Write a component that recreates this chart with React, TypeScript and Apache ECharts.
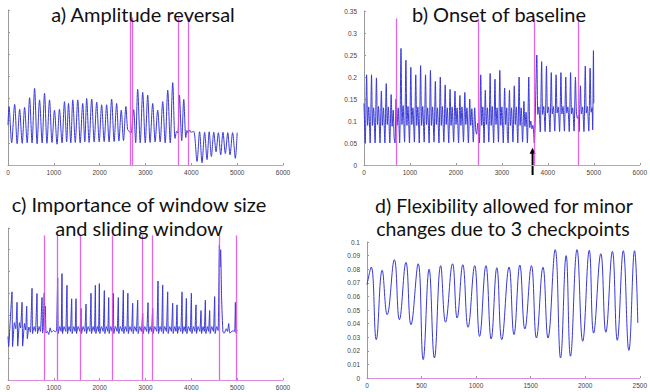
import React, { useEffect, useRef } from 'react';
import * as echarts from 'echarts';

// ---- Panel a) Amplitude reversal : [sample, amplitude]
const aSignal: number[][] = [
  [0, 0.09], [22, 0.132], [80, 0.05], [145, 0.137], [200, 0.048], [254, 0.126], [310, 0.049], [362, 0.13],
  [418, 0.05], [471, 0.152], [525, 0.05], [580, 0.173], [635, 0.048], [688, 0.147], [745, 0.05], [797, 0.162],
  [850, 0.049], [906, 0.147], [960, 0.051], [1014, 0.124], [1070, 0.047], [1123, 0.126], [1178, 0.05], [1232, 0.143],
  [1280, 0.052], [1320, 0.139], [1370, 0.05], [1413, 0.147], [1468, 0.051], [1522, 0.147], [1575, 0.05], [1630, 0.139],
  [1675, 0.052], [1717, 0.15], [1770, 0.051], [1826, 0.149], [1880, 0.052], [1935, 0.142], [1990, 0.052], [2043, 0.136],
  [2098, 0.053], [2152, 0.136], [2205, 0.052], [2261, 0.149], [2315, 0.053], [2370, 0.139], [2420, 0.054], [2471, 0.124],
  [2520, 0.055], [2572, 0.132], [2610, 0.08], [2645, 0.076], [2680, 0.072], [2700, 0.08], [2742, 0.125], [2785, 0.05],
  [2829, 0.171], [2885, 0.05], [2939, 0.164], [2995, 0.05], [3048, 0.158], [3100, 0.051], [3157, 0.139], [3210, 0.052],
  [3266, 0.124], [3320, 0.052], [3375, 0.143], [3430, 0.05], [3485, 0.169], [3540, 0.05], [3594, 0.186], [3645, 0.06],
  [3680, 0.076], [3705, 0.072], [3740, 0.158], [3790, 0.055], [3835, 0.148], [3880, 0.062], [3905, 0.078], [3930, 0.072],
  [3960, 0.079], [3990, 0.074], [4050, 0.076], [4124, 0.008], [4180, 0.075], [4233, 0.005], [4290, 0.074], [4342, 0.012],
  [4390, 0.075], [4437, 0.019], [4490, 0.074], [4539, 0.03], [4590, 0.073], [4641, 0.023], [4690, 0.074], [4742, 0.026],
  [4795, 0.073], [4844, 0.023], [4900, 0.073], [4960, 0.015], [5000, 0.073],
];
const aCuts = [2670, 2715, 3705, 3940];

// ---- Panel b) Onset of baseline
const bSignal: number[][] = [
  [0, 0.14],
  [27, 0.05], [57, 0.205], [79, 0.09], [102, 0.132],
  [134, 0.05], [164, 0.205], [186, 0.09], [209, 0.13],
  [241, 0.05], [271, 0.198], [293, 0.092], [316, 0.133],
  [348, 0.05], [378, 0.168], [400, 0.09], [423, 0.13],
  [454, 0.05], [484, 0.185], [506, 0.092], [529, 0.132],
  [561, 0.05], [591, 0.16], [613, 0.088], [636, 0.125],
  [655, 0.062], [675, 0.05], [698, 0.15], [720, 0.09], [743, 0.13],
  [775, 0.05], [805, 0.265], [827, 0.092], [850, 0.135],
  [882, 0.052], [912, 0.238], [934, 0.09], [957, 0.133],
  [989, 0.05], [1019, 0.222], [1041, 0.092], [1064, 0.13],
  [1096, 0.052], [1126, 0.205], [1148, 0.09], [1171, 0.132],
  [1202, 0.05], [1232, 0.226], [1254, 0.09], [1277, 0.133],
  [1309, 0.052], [1339, 0.205], [1361, 0.092], [1384, 0.13],
  [1416, 0.05], [1446, 0.215], [1468, 0.09], [1491, 0.132],
  [1523, 0.052], [1553, 0.19], [1575, 0.092], [1598, 0.13],
  [1630, 0.05], [1660, 0.2], [1682, 0.09], [1705, 0.133],
  [1737, 0.052], [1767, 0.182], [1789, 0.092], [1812, 0.13],
  [1843, 0.05], [1873, 0.172], [1895, 0.09], [1918, 0.132],
  [1950, 0.052], [1980, 0.168], [2002, 0.092], [2025, 0.13],
  [2057, 0.05], [2087, 0.158], [2109, 0.09], [2132, 0.132],
  [2164, 0.052], [2194, 0.165], [2216, 0.092], [2239, 0.13],
  [2271, 0.05], [2301, 0.15], [2323, 0.09], [2346, 0.128],
  [2378, 0.052], [2408, 0.13], [2430, 0.08], [2450, 0.07], [2475, 0.095],
  [2510, 0.05], [2540, 0.205], [2562, 0.09], [2585, 0.132],
  [2612, 0.05], [2640, 0.17], [2662, 0.092], [2685, 0.13],
  [2715, 0.052], [2745, 0.208], [2767, 0.09], [2790, 0.133],
  [2820, 0.05], [2850, 0.195], [2872, 0.092], [2895, 0.13],
  [2925, 0.052], [2955, 0.215], [2977, 0.09], [3000, 0.132],
  [3030, 0.05], [3060, 0.175], [3082, 0.092], [3105, 0.13],
  [3120, 0.065], [3135, 0.05], [3165, 0.17], [3187, 0.09], [3210, 0.13],
  [3240, 0.052], [3270, 0.18], [3292, 0.092], [3315, 0.132],
  [3345, 0.05], [3375, 0.2], [3397, 0.09], [3420, 0.13],
  [3450, 0.052], [3480, 0.145], [3502, 0.088], [3525, 0.12],
  [3555, 0.05], [3585, 0.2], [3607, 0.085], [3630, 0.1], [3652, 0.082], [3675, 0.09],
  [3705, 0.05], [3760, 0.25], [3782, 0.115], [3805, 0.132],
  [3835, 0.075], [3865, 0.235], [3887, 0.115], [3910, 0.133],
  [3940, 0.076], [3970, 0.225], [3992, 0.118], [4015, 0.132],
  [4045, 0.075], [4075, 0.21], [4097, 0.116], [4120, 0.133],
  [4150, 0.077], [4180, 0.205], [4202, 0.118], [4225, 0.132],
  [4255, 0.076], [4285, 0.21], [4307, 0.116], [4330, 0.133],
  [4360, 0.077], [4390, 0.2], [4412, 0.118], [4435, 0.132],
  [4465, 0.076], [4495, 0.21], [4517, 0.116], [4540, 0.13],
  [4570, 0.077], [4600, 0.2], [4622, 0.118], [4645, 0.106], [4665, 0.112],
  [4680, 0.076], [4710, 0.18], [4732, 0.116], [4755, 0.132],
  [4785, 0.076], [4815, 0.225], [4837, 0.118], [4860, 0.133],
  [4890, 0.077], [4920, 0.22], [4942, 0.12], [4962, 0.13],
  [4975, 0.08], [4992, 0.26], [5000, 0.14],
];
const bCuts = [705, 2479, 3704, 4660];
const bArrowAt = 3668;

// ---- Panel c) Importance of window size and sliding window
const cSignal: number[][] = [
  [0, 0.1], [15, 0.077], [45, 0.13], [87, 0.203], [100, 0.077], [140, 0.132], [170, 0.118], [197, 0.179],
  [212, 0.078], [250, 0.132], [275, 0.12], [306, 0.179], [320, 0.078], [360, 0.13], [385, 0.115], [408, 0.17],
  [422, 0.095], [455, 0.122], [490, 0.11],
  [524, 0.211], [536, 0.107], [569, 0.123], [599, 0.112],
  [633, 0.199], [645, 0.107], [678, 0.123], [708, 0.112],
  [742, 0.19], [754, 0.108], [770, 0.12],
  [790, 0.2], [805, 0.15], [815, 0.17], [830, 0.108], [860, 0.112], [890, 0.105], [920, 0.12], [950, 0.11],
  [990, 0.114], [1030, 0.111], [1060, 0.113],
  [1084, 0.235], [1096, 0.107], [1129, 0.123], [1159, 0.112],
  [1178, 0.245], [1190, 0.107], [1223, 0.123], [1260, 0.112],
  [1287, 0.218], [1299, 0.107], [1332, 0.123], [1362, 0.112],
  [1389, 0.187], [1401, 0.107], [1434, 0.123], [1464, 0.112],
  [1484, 0.187], [1496, 0.107], [1529, 0.123], [1570, 0.112],
  [1593, 0.165], [1605, 0.107], [1638, 0.123], [1675, 0.112],
  [1702, 0.175], [1714, 0.107], [1747, 0.123], [1785, 0.112],
  [1811, 0.2], [1823, 0.107], [1856, 0.123], [1886, 0.112],
  [1906, 0.218], [1918, 0.107], [1951, 0.123], [1975, 0.112],
  [1993, 0.222], [2005, 0.107], [2038, 0.123], [2075, 0.112],
  [2102, 0.206], [2114, 0.107], [2147, 0.123], [2177, 0.112],
  [2197, 0.19], [2209, 0.107], [2242, 0.123], [2272, 0.112],
  [2298, 0.2], [2310, 0.107], [2343, 0.123], [2380, 0.112],
  [2407, 0.19], [2419, 0.107], [2452, 0.123], [2490, 0.112],
  [2516, 0.207], [2528, 0.107], [2561, 0.123], [2591, 0.112],
  [2615, 0.2], [2627, 0.107], [2660, 0.123], [2695, 0.112],
  [2720, 0.177], [2732, 0.107], [2765, 0.123], [2800, 0.112],
  [2829, 0.184], [2841, 0.107], [2874, 0.123], [2910, 0.112],
  [2939, 0.154], [2951, 0.107], [2984, 0.123], [3025, 0.112],
  [3055, 0.178], [3067, 0.107], [3100, 0.123], [3130, 0.112],
  [3157, 0.165], [3169, 0.107], [3202, 0.123], [3245, 0.112],
  [3273, 0.228], [3285, 0.107], [3318, 0.123], [3350, 0.112],
  [3375, 0.219], [3387, 0.107], [3420, 0.123], [3455, 0.112],
  [3484, 0.203], [3496, 0.107], [3529, 0.123], [3565, 0.112],
  [3593, 0.177], [3605, 0.107], [3638, 0.123], [3665, 0.112],
  [3688, 0.173], [3700, 0.107], [3733, 0.123], [3770, 0.112],
  [3797, 0.203], [3809, 0.107], [3842, 0.123], [3868, 0.112],
  [3892, 0.188], [3904, 0.107], [3937, 0.123], [3975, 0.112],
  [4001, 0.2], [4013, 0.107], [4046, 0.123], [4076, 0.112],
  [4102, 0.173], [4114, 0.107], [4147, 0.123], [4185, 0.112],
  [4211, 0.16], [4223, 0.107], [4256, 0.123], [4282, 0.112],
  [4306, 0.184], [4318, 0.107], [4351, 0.123], [4376, 0.112],
  [4400, 0.16], [4412, 0.107], [4445, 0.123], [4482, 0.112],
  [4509, 0.192], [4521, 0.107], [4554, 0.123], [4585, 0.114],
  [4612, 0.31], [4625, 0.26], [4640, 0.3], [4660, 0.19], [4690, 0.11], [4720, 0.108], [4760, 0.118],
  [4790, 0.112], [4815, 0.13], [4840, 0.108], [4900, 0.113], [4945, 0.112], [4961, 0.179], [4975, 0.108],
  [5000, 0.115],
];
const cCuts = [793, 1076, 1586, 2284, 2939, 3157, 4612, 4970];

// ---- Panel d) Flexibility allowed for minor changes due to 3 checkpoints
const dSignal: number[][] = [
  [0, 0.0686], [39, 0.0816], [85, 0.0282], [139, 0.0792], [185, 0.0466], [251, 0.087], [297, 0.0429],
  [357, 0.085], [403, 0.0392], [469, 0.084], [515, 0.0135], [569, 0.08], [618, 0.0147], [675, 0.0826],
  [720, 0.041], [784, 0.084], [826, 0.0441], [878, 0.0833], [926, 0.0373], [987, 0.0826], [1032, 0.0306],
  [1090, 0.0826], [1138, 0.0287], [1190, 0.0811], [1235, 0.0282], [1302, 0.0816], [1347, 0.0319],
  [1401, 0.083], [1447, 0.036], [1507, 0.0826], [1553, 0.0294], [1613, 0.0814], [1659, 0.0294],
  [1725, 0.0944], [1774, 0.0147], [1825, 0.09], [1865, 0.016], [1925, 0.0944], [1977, 0.027],
  [2037, 0.0939], [2077, 0.033], [2143, 0.0914], [2189, 0.0336], [2249, 0.0931], [2294, 0.0277],
  [2349, 0.0936], [2400, 0.0203], [2452, 0.0936], [2482, 0.0404],
];

const cutTop = 0.333;
const titleA = 'a) Amplitude reversal';
const titleB = 'b) Onset of baseline';
const titleC = ['c) Importance of window size', 'and sliding window'];
const titleD = ['d) Flexibility allowed for minor', 'changes due to 3 checkpoints'];

const BLUE = '#3838d8';
const MAGENTA = '#e04ce0';
const AXISGRAY = '#9a9a9a';
const LABEL = { fontSize: 6.5, color: '#444', fontFamily: 'Liberation Sans' };

export default function App() {
  const ref = useRef<HTMLDivElement>(null);
  useEffect(() => {
    const chart = echarts.init(ref.current!, null, { renderer: 'svg' });
    const xAxis = (gridIndex: number, max: number, interval: number) => ({
      type: 'value', gridIndex, min: 0, max, interval,
      axisLine: { show: true, lineStyle: { color: '#dc8cdc', width: 1 } },
      axisTick: { show: true, inside: true, length: 2, lineStyle: { color: AXISGRAY } },
      axisLabel: { ...LABEL, margin: 4, showMaxLabel: true, showMinLabel: true, formatter: (v: number) => String(v) },
      splitLine: { show: false },
    });
    const yAxis = (gridIndex: number, max: number, interval: number, showLabel: boolean) => ({
      type: 'value', gridIndex, min: 0, max, interval,
      axisLine: { show: true, lineStyle: { color: AXISGRAY, width: 1 } },
      axisTick: { show: true, inside: true, length: 2, lineStyle: { color: AXISGRAY } },
      axisLabel: { ...LABEL, show: showLabel, margin: 7 },
      splitLine: { show: false },
    });
    const cutLines = (cuts: number[]) => ({
      silent: true,
      symbol: ['none', 'none'],
      label: { show: false },
      emphasis: { disabled: true },
      lineStyle: { color: MAGENTA, width: 1.3, type: 'solid', opacity: 0.85 },
      data: cuts.map((x) => [{ coord: [x, 0] }, { coord: [x, cutTop] }]),
    });
    const signal = (i: number, data: number[][], smooth: number, cuts?: number[]) => ({
      type: 'line', xAxisIndex: i, yAxisIndex: i, data, smooth,
      showSymbol: false, symbol: 'none', silent: true,
      lineStyle: { color: BLUE, width: 1 },
      emphasis: { disabled: true },
      ...(cuts ? { markLine: cutLines(cuts) } : {}),
    });
    chart.setOption({
      animation: false,
      backgroundColor: '#ffffff',
      grid: [
        { left: 8, top: 10, width: 275, height: 155 },
        { left: 364, top: 11, width: 281, height: 154 },
        { left: 8, top: 228, width: 275, height: 152 },
        { left: 367, top: 242, width: 275, height: 136 },
      ],
      xAxis: [xAxis(0, 6000, 1000), xAxis(1, 6000, 1000), xAxis(2, 6000, 1000), xAxis(3, 2500, 500)],
      yAxis: [yAxis(0, 0.35, 0.05, false), yAxis(1, 0.35, 0.05, true), yAxis(2, 0.35, 0.05, false), yAxis(3, 0.1, 0.01, true)],
      series: [
        signal(0, aSignal, 0.3, aCuts),
        signal(1, bSignal, 0.25, bCuts),
        signal(2, cSignal, 0.15, cCuts),
        signal(3, dSignal, 0.45),
      ],
    });
    const tip = chart.convertToPixel({ gridIndex: 1 }, [bArrowAt, 0.039]) as number[];
    const base = chart.convertToPixel({ gridIndex: 1 }, [bArrowAt, 0]) as number[];
    const tfont = { fontFamily: 'Lato', fontSize: 20, fill: '#111' };
    const title = (text: string, x: number, y: number, size = 20) => ({
      type: 'text', x, y, z: 100,
      style: { ...tfont, fontSize: size, text, textAlign: 'center', textVerticalAlign: 'middle' },
    });
    chart.setOption({
      graphic: [
        title(titleA, 143, 14),
        title(titleB, 499, 14),
        title(titleC[0], 139, 204),
        title(titleC[1], 139, 228),
        title(titleD[0], 504, 205, 19.5),
        title(titleD[1], 503, 228, 19.5),
        {
          type: 'group', z: 100,
          children: [
            { type: 'line', shape: { x1: tip[0], y1: tip[1] + 5, x2: tip[0], y2: base[1] + 10 }, style: { stroke: '#000', lineWidth: 2 } },
            { type: 'polygon', shape: { points: [[tip[0] - 3, tip[1] + 6], [tip[0] + 3, tip[1] + 6], [tip[0], tip[1]]] }, style: { fill: '#000' } },
          ],
        },
      ],
    });
    return () => chart.dispose();
  }, []);
  return <div ref={ref} style={{ position: 'fixed', left: 0, top: 0, width: 650, height: 392 }} />;
}
